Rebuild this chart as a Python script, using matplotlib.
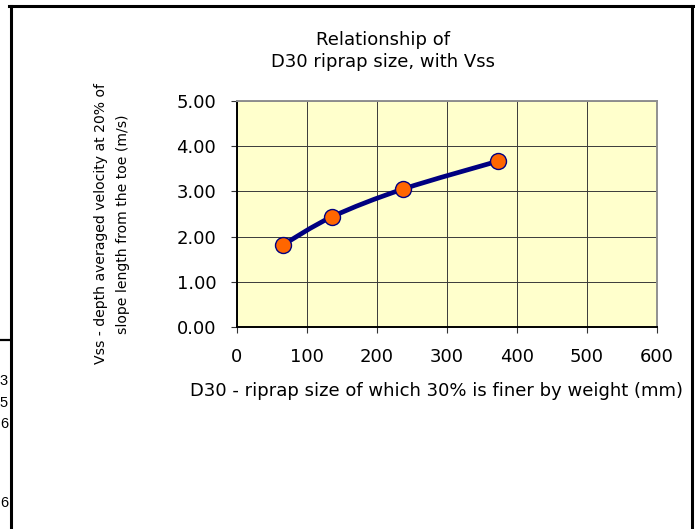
import numpy as np
import matplotlib
matplotlib.use("Agg")
from matplotlib import pyplot as plt
from matplotlib.path import Path
from matplotlib.patches import PathPatch
from matplotlib.lines import Line2D

# riprap D30 size (mm) vs. design velocity Vss (m/s)
d30_mm = [66, 136, 237, 373]
vss_ms = [1.82, 2.44, 3.05, 3.67]

x_ticks = [0, 100, 200, 300, 400, 500, 600]
y_ticks = [0.0, 1.0, 2.0, 3.0, 4.0, 5.0]

# bits of the neighbouring sheet cells that show at the left edge
cell_digits = ["3", "5", "6", "6"]
cell_rows_px = [381, 403, 424, 503]

W, H = 695, 529
plt.rcParams['font.family'] = ['DejaVu Sans']
fig = plt.figure(figsize=(W / 100, H / 100), dpi=100)


def fx(x):
    return x / W


def fy(y):
    return 1 - y / H


ax = fig.add_axes([fx(237), fy(327), fx(657) - fx(237), fy(101) - fy(327)])
ax.set_facecolor('#FFFFCC')
ax.set_xlim(0, 600)
ax.set_ylim(0, 5)
ax.set_xticks(x_ticks)
ax.set_yticks(y_ticks)
ax.set_xticklabels([str(v) for v in x_ticks])
ax.set_yticklabels([f"{v:.2f}" for v in y_ticks])
ax.grid(True, color='#3a3a3a', linewidth=0.7)
ax.set_axisbelow(True)
ax.tick_params(direction='out', length=4, width=0.8, labelsize=13, color='#333333')
ax.tick_params(axis='y', pad=11)
ax.tick_params(axis='x', pad=11)
for side in ['left', 'bottom']:
    ax.spines[side].set_color('black')
    ax.spines[side].set_linewidth(1.4)
for side in ['top', 'right']:
    ax.spines[side].set_color('#909090')
    ax.spines[side].set_linewidth(1.4)

# smoothed line through the points (cubic bezier segments, catmull-rom style)
pts = np.column_stack([d30_mm, vss_ms]).astype(float)
ext = np.vstack([pts[0], pts, pts[-1]])
verts = [tuple(pts[0])]
codes = [Path.MOVETO]
for i in range(len(pts) - 1):
    p0, p1, p2, p3 = ext[i], ext[i + 1], ext[i + 2], ext[i + 3]
    c1 = p1 + (p2 - p0) / 6
    c2 = p2 - (p3 - p1) / 6
    verts += [tuple(c1), tuple(c2), tuple(p2)]
    codes += [Path.CURVE4] * 3
ax.add_patch(PathPatch(Path(verts, codes), facecolor='none', edgecolor='#000080',
                       linewidth=3.4, capstyle='round', zorder=3))
ax.plot(d30_mm, vss_ms, linestyle='none', marker='o', markersize=11.5,
        markerfacecolor='#FF6600', markeredgecolor='#000080', markeredgewidth=1.0,
        zorder=4, clip_on=False)

fig.text(fx(383), fy(51), "Relationship of\nD30 riprap size, with Vss",
         ha='center', va='center', fontsize=13, linespacing=1.3)
fig.text(fx(437), fy(391), "D30 - riprap size of which 30% is finer by weight (mm)",
         ha='center', va='center', fontsize=13)
fig.text(fx(112), fy(224),
         "Vss - depth averaged velocity at 20% of\nslope length from the toe (m/s)",
         ha='center', va='center', rotation=90, fontsize=10.1, linespacing=1.65)

# chart frame
lw = 2.2
fig.add_artist(Line2D([fx(9), fx(693)], [fy(6), fy(6)], color='black', lw=lw))
fig.add_artist(Line2D([fx(10.5), fx(10.5)], [fy(6), fy(529)], color='black', lw=lw))
fig.add_artist(Line2D([fx(692), fx(692)], [fy(6), fy(529)], color='black', lw=lw))
fig.add_artist(Line2D([fx(0), fx(10)], [fy(340), fy(340)], color='black', lw=1.6))
for d, yy in zip(cell_digits, cell_rows_px):
    fig.text(fx(8), fy(yy), d, ha='right', va='center', fontsize=10.5,
             family='Liberation Sans')

fig.savefig("out.png", dpi=100)
